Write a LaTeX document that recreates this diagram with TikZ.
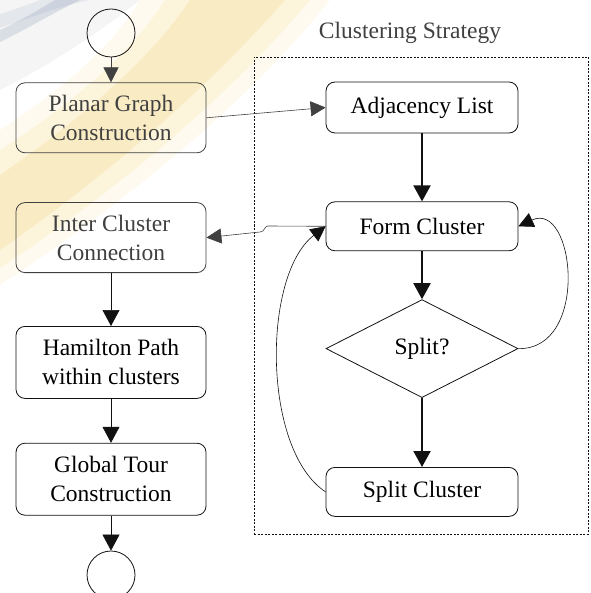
\documentclass[tikz,border=0pt]{standalone}
\usepackage{fontspec}
\setmainfont{Liberation Serif}
\usepackage{xcolor}
\definecolor{FlowInk}{HTML}{111111}
\definecolor{FlowGrey}{HTML}{404040}
\definecolor{MarkGold}{HTML}{F3D67E}
\definecolor{MarkBlue}{HTML}{9AA8C0}
\usepackage{tikz}
\usetikzlibrary{positioning,arrows.meta,shapes.geometric,fit}
\tikzset{
  pbox/.style={draw=FlowInk,rounded corners=9pt,align=center,line width=0.8pt,minimum width=190pt,minimum height=70pt,inner sep=2pt,font=\rmfamily\fontsize{23.5}{29}\selectfont},
  pboxgrey/.style={pbox,draw=FlowGrey,text=FlowGrey},
  cbox/.style={pbox,minimum width=192pt,minimum height=49pt},
  cdiamond/.style={draw=FlowInk,diamond,aspect=2,minimum width=192pt,minimum height=98pt,inner sep=0pt,line width=0.8pt,font=\rmfamily\fontsize{23.5}{29}\selectfont},
  terminal/.style={draw=FlowInk,circle,minimum size=48pt,inner sep=0pt,line width=0.8pt},
  clusterframe/.style={draw=FlowInk,dash pattern=on 2pt off 1.5pt,line width=0.6pt,inner sep=0pt},
  pflow/.style={-{Triangle[length=16pt,width=17pt]},draw=FlowInk,line width=0.7pt},
  pgreyflow/.style={-{Triangle[length=15pt,width=15pt]},draw=FlowGrey,line width=0.6pt},
  cflow/.style={-{Triangle[length=16pt,width=17pt]},draw=FlowInk,line width=2pt},
  loopflow/.style={-{Triangle[length=15pt,width=15pt]},draw=FlowInk,line width=0.6pt}
}
\begin{document}
\begin{tikzpicture}[x=1pt,y=-1pt]
  \useasboundingbox (0,0) rectangle (590,593);
  % faded background mark
  \fill[gray!8] (0,0) -- (140,0) .. controls (90,40) and (40,70) .. (0,90) -- cycle;
  \fill[MarkGold,opacity=0.12] (140,0) -- (330,0) .. controls (250,100) and (130,200) .. (0,285) -- (0,130) .. controls (60,90) and (110,50) .. (140,0) -- cycle;
  \fill[MarkGold,opacity=0.18] (165,0) -- (310,0) .. controls (235,90) and (125,185) .. (0,268) -- (0,150) .. controls (70,105) and (130,55) .. (165,0) -- cycle;
  \fill[MarkGold,opacity=0.25] (190,0) -- (285,0) .. controls (215,80) and (115,170) .. (0,250) -- (0,175) .. controls (80,120) and (150,60) .. (190,0) -- cycle;
  \fill[MarkBlue,opacity=0.18] (0,28) .. controls (30,18) and (60,6) .. (90,0) -- (40,0) .. controls (25,6) and (12,10) .. (0,14) -- cycle;
  \fill[MarkBlue,opacity=0.3] (0,42) .. controls (25,30) and (55,12) .. (80,0) -- (55,0) .. controls (35,12) and (18,22) .. (0,30) -- cycle;

  % main column
  \node[terminal] (start) at (111,33) {};
  \node[pboxgrey,below=25pt of start] (planar) {Planar Graph\\Construction};
  \node[pboxgrey,below=49pt of planar] (inter) {Inter Cluster\\Connection};
  \node[pbox,below=53pt of inter,minimum height=72pt] (hamilton) {Hamilton Path\\within clusters};
  \node[pbox,below=44pt of hamilton,minimum height=72pt] (tour) {Global Tour\\Construction};
  \node[terminal,below=35pt of tour] (stop) {};

  % clustering strategy
  \node[clusterframe,fit={(254,57) (588,534)}] (frame) {};
  \node[font=\rmfamily\fontsize{23.5}{29}\selectfont,text=FlowGrey] (title) at (410,33) {Clustering Strategy};
  \node[cbox,minimum height=51pt] (adj) at (422,107.5) {Adjacency List};
  \node[cbox,below=68pt of adj] (form) {Form Cluster};
  \node[cdiamond,below=48pt of form] (split) {Split?};
  \node[cbox,below=69pt of split] (splitc) {Split Cluster};

  \coordinate (bendA) at (268,226);
  \coordinate (bendB) at (260,232);

  \draw[pgreyflow] (start) -- (planar);
  \draw[pflow] (inter) -- (hamilton);
  \draw[pflow] (hamilton) -- (tour);
  \draw[pflow] (tour) -- (stop);
  \draw[pgreyflow] (planar.east) -- (adj.west);
  \draw[pgreyflow] (form.west) -- (bendA) .. controls (264,226) and (265,232) .. (bendB) -- (inter.east);
  \draw[cflow] (adj) -- (form);
  \draw[cflow] (form) -- (split);
  \draw[cflow] (split) -- (splitc);
  \draw[loopflow] (split.east) .. controls (590,350) and (575,200) .. (form.east);
  \draw[loopflow] (splitc.west) .. controls (262,450) and (262,275) .. (form.west);
\end{tikzpicture}
\end{document}
